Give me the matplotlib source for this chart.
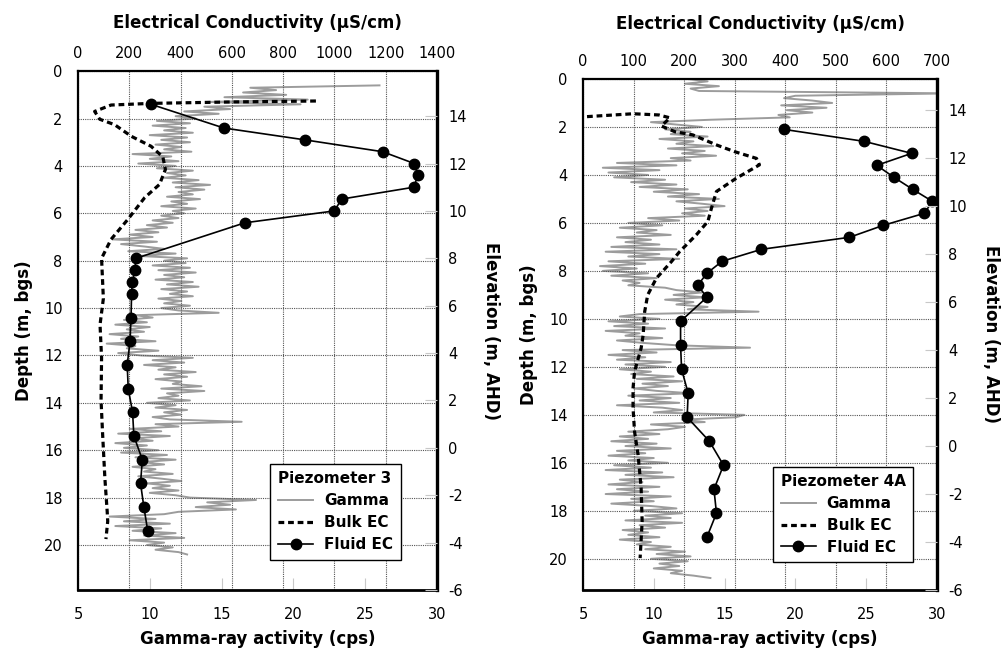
import numpy as np
import matplotlib.pyplot as plt

plt.rcParams['font.family'] = ['DejaVu Sans']
plt.rcParams['axes.unicode_minus'] = False

# ---- Piezometer 3 ----
fluid3_depth = [1.4, 2.4, 2.9, 3.4, 3.9, 4.4, 4.9, 5.4, 5.9, 6.4, 7.9, 8.4,
                8.9, 9.4, 10.4, 11.4, 12.4, 13.4, 14.4, 15.4, 16.4, 17.4, 18.4, 19.4]
fluid3_ec = [285, 569, 885, 1188, 1312, 1326, 1309, 1028, 1000, 651, 226, 222,
             212, 209, 207, 203, 192, 196, 213, 218, 251, 244, 257, 272]

bulk3_depth = [1.26, 1.30, 1.36, 1.43, 1.70, 2.03, 2.26, 2.75, 3.17, 3.62, 4.15,
               4.78, 5.34, 6.25, 7.1, 7.9, 9.6, 10.7, 12.1, 13.9, 15.3, 17.2,
               18.6, 19.0, 19.75]
bulk3_ec = [928, 600, 285, 129, 65, 85, 143, 208, 285, 331, 341,
            318, 260, 195, 129, 92, 99, 86, 92, 90, 96, 105,
            114, 116, 109]

gamma3_top = 0.6   # depth of first gamma sample, 0.1 m logging interval
gamma3 = [
    26.0, 17.0, 18.8, 16.5,
    19.5, 15.2, 21.0, 14.0, 20.5, 13.8, 15.6, 12.4, 14.8, 11.8,
    13.2, 10.5, 12.8, 10.2, 12.5, 11.0, 13.0, 10.0, 12.6, 10.8,
    12.8, 10.4, 12.2, 11.0, 12.9, 8.8, 11.5, 10.0, 12.0, 9.2,
    11.8, 10.5, 13.0, 11.2, 12.5, 11.0, 13.4, 11.6, 14.2, 11.8,
    13.8, 12.0, 13.0, 11.2, 13.5, 11.5, 12.6, 10.8, 13.2, 11.6,
    12.4, 10.8, 12.0, 10.2, 11.6, 9.8, 11.2, 9.0, 10.6, 8.6,
    10.2, 7.4, 10.5, 8.0, 9.6, 11.0, 8.5, 11.8, 9.2, 12.6,
    11.0, 12.5, 10.2, 12.8, 10.6, 13.2, 11.0, 12.4, 10.4, 13.0,
    11.2, 13.4, 10.8, 12.6, 11.4, 13.0, 10.6, 12.2, 11.0, 12.8,
    10.8, 12.0, 14.8, 9.0, 10.2, 8.2, 9.8, 7.6, 10.0, 8.4,
    9.6, 7.2, 9.2, 8.0, 10.4, 7.0, 9.0, 8.4, 10.6, 7.8,
    9.4, 13.0, 10.2, 12.4, 9.6, 11.8, 10.6, 13.2, 11.0, 12.6,
    10.4, 12.2, 11.6, 13.6, 10.8, 13.8, 11.2, 12.0, 10.6, 12.8,
    9.8, 11.8, 10.4, 12.6, 11.0, 12.2, 10.2, 11.4, 16.4, 10.4,
    12.0, 8.6, 10.8, 7.8, 11.4, 8.8, 10.2, 7.6, 9.8, 8.2,
    10.6, 8.0, 11.2, 9.0, 11.8, 9.4, 11.0, 8.8, 10.4, 9.6,
    11.6, 9.2, 10.8, 12.2, 9.8, 11.4, 10.2, 12.0, 10.0, 11.8,
    12.8, 17.4, 14.0, 15.6, 13.2, 16.0, 12.0, 11.0, 7.2, 10.4,
    8.2, 11.4, 7.6, 10.8, 8.8, 11.8, 9.6, 12.4, 8.6, 11.0,
    9.8, 11.6, 10.4, 12.0, 12.6,
]

# ---- Piezometer 4A ----
fluid4_depth = [2.1, 2.6, 3.1, 3.6, 4.1, 4.6, 5.1, 5.6, 6.1, 6.6, 7.1, 7.6, 8.1,
                8.6, 9.1, 10.1, 11.1, 12.1, 13.1, 14.1, 15.1, 16.1, 17.1, 18.1, 19.1]
fluid4_ec = [397, 556, 650, 581, 615, 652, 691, 675, 594, 527, 353, 275, 245,
             227, 245, 193, 193, 195, 208, 206, 250, 278, 259, 264, 245]

bulk4_depth = [1.57, 1.45, 1.50, 1.62, 1.96, 2.20, 2.33, 2.75, 3.03, 3.31, 3.58,
               4.14, 4.69, 5.39, 5.94, 6.50, 7.20, 7.61, 8.31, 9.00, 9.70, 10.67,
               11.22, 12.19, 12.89, 13.72, 14.70, 15.67, 17.05, 18.45, 19.97]
bulk4_ec = [8, 99, 150, 172, 155, 182, 217, 264, 300, 343, 349,
            303, 264, 254, 247, 224, 191, 175, 145, 128, 122, 119,
            115, 102, 99, 99, 102, 109, 115, 117, 113]

gamma4_top = 0.0
gamma4 = [
    12.4, 13.8, 12.2, 14.6, 12.6, 13.2, 31.0, 20.0, 19.2, 21.2,
    22.6, 19.0, 22.2, 19.4, 21.2, 18.8, 19.6, 14.0, 9.8, 11.6,
    13.4, 10.8, 12.6, 11.2, 13.8, 10.4, 12.8, 11.6, 14.2, 11.0,
    13.6, 12.0, 14.4, 11.2, 12.6, 7.4, 11.6, 6.4, 10.4, 6.8,
    9.6, 7.2, 10.8, 8.4, 11.6, 9.0, 12.4, 10.0, 13.2, 11.0,
    14.6, 11.6, 13.4, 15.0, 12.2, 13.8, 12.0, 13.6, 9.6, 11.8,
    8.2, 10.6, 7.6, 10.2, 8.8, 11.2, 7.4, 9.8, 8.0, 10.4,
    7.0, 11.6, 6.6, 10.4, 8.2, 11.8, 6.8, 9.4, 6.2, 8.8,
    6.4, 9.6, 7.0, 10.2, 7.8, 9.0, 8.2, 10.8, 11.6, 13.4,
    11.4, 13.6, 10.8, 12.8, 11.6, 13.8, 12.4, 17.4, 9.0, 7.6,
    10.4, 6.8, 9.6, 7.2, 10.8, 6.6, 9.0, 8.0, 10.6, 7.4,
    9.2, 11.6, 16.8, 7.8, 10.2, 6.8, 9.4, 7.4, 11.2, 8.0,
    10.8, 7.6, 9.8, 8.4, 11.4, 8.8, 12.0, 9.2, 11.0, 8.6,
    10.2, 12.6, 8.2, 11.2, 9.0, 11.8, 7.4, 10.6, 12.0, 10.0,
    16.4, 15.8, 12.0, 13.6, 9.8, 12.2, 11.0, 8.2, 10.4, 7.6,
    9.6, 7.0, 10.2, 8.0, 11.2, 7.4, 9.4, 6.8, 10.0, 8.2,
    11.0, 7.2, 9.8, 6.6, 10.6, 8.0, 11.4, 7.6, 9.2, 6.8,
    10.4, 7.4, 9.6, 6.6, 11.2, 8.4, 10.0, 7.0, 9.8, 11.6,
    8.6, 12.0, 9.4, 11.2, 8.0, 12.0, 9.0, 10.8, 7.8, 9.6,
    8.2, 10.4, 7.6, 9.8, 8.8, 11.2, 9.4, 12.2, 10.2, 12.6,
    9.8, 12.4, 10.4, 11.8, 10.0, 12.0, 11.2, 12.8, 14.0,
]

log_step = 0.1
gamma_ticks = [5, 10, 15, 20, 25, 30]
elev_ticks = list(range(-6, 15, 2))
depth_ticks = list(range(0, 21, 2))

TICK_FS = 10.5
LABEL_FS = 12


def draw_panel(rect, name, ec_max, ec_step, depth_max, elev_top,
               gamma, gamma_top, bulk_d, bulk_ec, fluid_d, fluid_ec,
               leg_anchor, top_pad, title_pad):
    ax = fig.add_axes(rect)
    ax_g = ax.twiny()
    ax_el = ax.twinx()

    # gamma sits underneath the EC axes
    ax_g.set_zorder(-1)
    ax.patch.set_visible(False)

    gdepth = gamma_top + log_step * np.arange(len(gamma))
    lg, = ax_g.plot(gamma, gdepth, color='#9c9c9c', lw=1.4)
    lb, = ax.plot(bulk_ec, bulk_d, color='black', lw=2.3, dashes=(1.8, 1.2))
    lf, = ax.plot(fluid_ec, fluid_d, color='black', lw=1.2, marker='o',
                  ms=7.5, clip_on=False)

    ax.set_xlim(0, ec_max)
    ax.set_ylim(depth_max, 0)
    ax_g.set_xlim(5, 30)
    ax_el.set_ylim(elev_top - depth_max, elev_top)

    ax.set_xticks(np.arange(0, ec_max + 1, ec_step))
    ax.set_yticks(depth_ticks)
    ax.xaxis.tick_top()
    ax.xaxis.set_label_position('top')
    ax.tick_params(axis='both', length=0, labelsize=TICK_FS)
    ax.tick_params(axis='x', pad=top_pad)
    ax.tick_params(axis='y', pad=11)
    ax.grid(True, color='#555555', lw=0.8, ls=(0, (1, 1)))

    ax_g.set_xticks(gamma_ticks)
    ax_g.xaxis.set_ticks_position('bottom')
    ax_g.xaxis.set_label_position('bottom')
    ax_g.tick_params(axis='x', direction='in', length=9, color='#c8c8c8',
                     labelsize=TICK_FS, pad=12)

    ax_el.set_yticks(elev_ticks)
    ax_el.tick_params(axis='y', direction='in', length=9, color='#c8c8c8',
                      labelsize=TICK_FS, pad=8)

    for a in (ax_g, ax_el):
        for sp in a.spines.values():
            sp.set_visible(False)
    for side, sp in ax.spines.items():
        sp.set_color('black')
        sp.set_linewidth(1.6)
    ax.spines['right'].set_linewidth(2.4)
    ax.spines['bottom'].set_linewidth(2.0)

    ax.set_xlabel('Electrical Conductivity (μS/cm)', fontsize=LABEL_FS,
                  fontweight='bold', labelpad=title_pad)
    ax_g.set_xlabel('Gamma-ray activity (cps)', fontsize=LABEL_FS,
                    fontweight='bold', labelpad=6)
    ax.set_ylabel('Depth (m, bgs)', fontsize=LABEL_FS, fontweight='bold',
                  labelpad=8)
    ax_el.set_ylabel('Elevation (m, AHD)', fontsize=LABEL_FS, fontweight='bold',
                     rotation=270, labelpad=24)

    leg = ax.legend([lg, lb, lf], ['Gamma', 'Bulk EC', 'Fluid EC'],
                    title=name, loc='lower right', bbox_to_anchor=leg_anchor,
                    prop={'weight': 'bold', 'size': 11},
                    title_fontproperties={'weight': 'bold', 'size': 11},
                    alignment='left', fancybox=False, framealpha=1,
                    edgecolor='black', handlelength=2.3, borderpad=0.5,
                    labelspacing=0.45, handletextpad=0.7)
    leg.get_frame().set_linewidth(1.0)
    return ax


fig = plt.figure(figsize=(10.01, 6.51), dpi=100)
fig.patch.set_facecolor('white')

draw_panel([0.0779, 0.0937, 0.3586, 0.797], 'Piezometer 3', 1400, 200, 21.9, 15.9,
           gamma3, gamma3_top, bulk3_depth, bulk3_ec, fluid3_depth, fluid3_ec,
           (0.92, 0.044), 7, 13)
draw_panel([0.5824, 0.0937, 0.3536, 0.785], 'Piezometer 4A', 700, 100, 21.3, 15.3,
           gamma4, gamma4_top, bulk4_depth, bulk4_ec, fluid4_depth, fluid4_ec,
           (0.955, 0.039), 7, 18)

fig.savefig('out.png', dpi=100, facecolor='white')
